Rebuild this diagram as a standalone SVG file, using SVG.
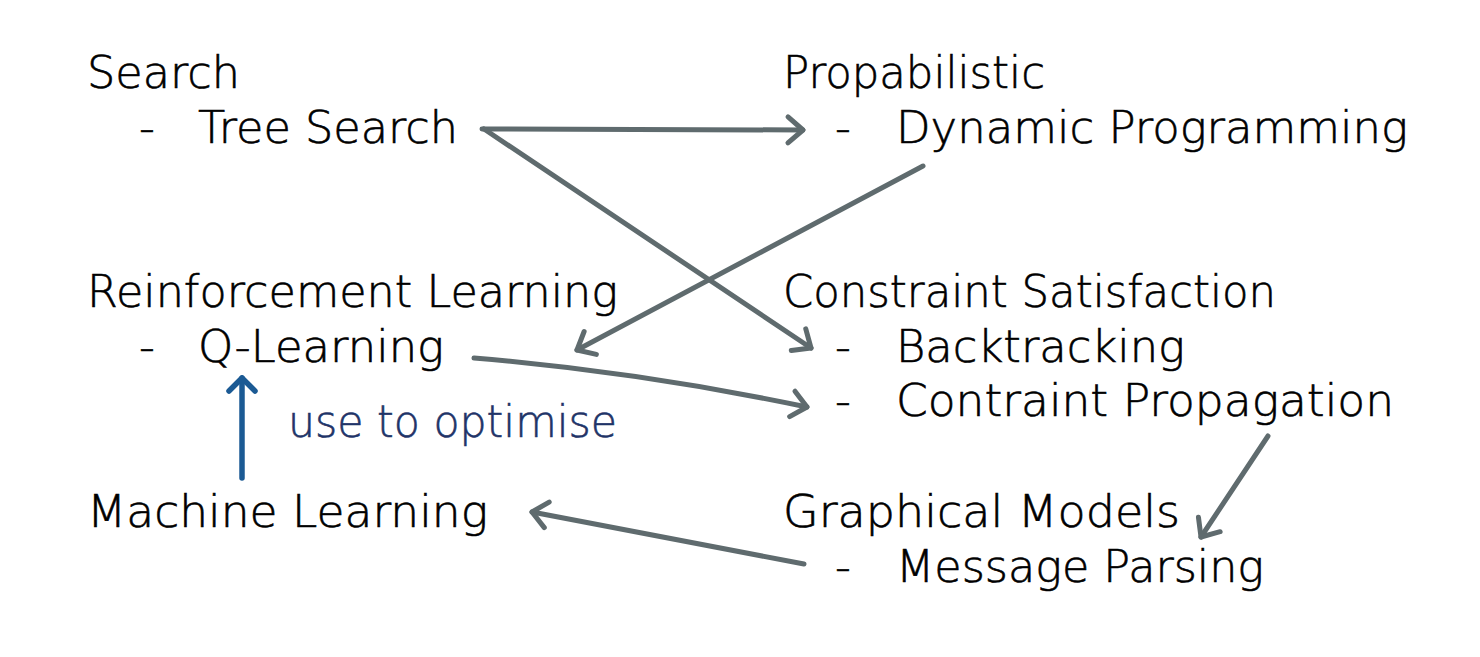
<svg xmlns="http://www.w3.org/2000/svg" width="1480" height="657" viewBox="0 0 1480 657">
<style>
.t{font-family:"DejaVu Sans","Liberation Sans",sans-serif;font-size:44px;font-weight:300;fill:#000;stroke:#000;stroke-width:0.6}
.b{font-family:"DejaVu Sans","Liberation Sans",sans-serif;font-size:44px;font-weight:300;fill:#1f3468;stroke:#1f3468;stroke-width:0.6}
.c{fill:none;stroke:#5f6b6e;stroke-width:5;stroke-linecap:round;stroke-linejoin:round}
.u{fill:none;stroke:#1b5a94;stroke-width:5.5;stroke-linecap:round;stroke-linejoin:round}
</style>
<defs>
<marker id="ag" markerUnits="userSpaceOnUse" orient="auto" markerWidth="40" markerHeight="40" refX="20" refY="20" viewBox="0 0 40 40">
<path d="M5,7 L20,20 L5,33" fill="none" stroke="#5f6b6e" stroke-width="5" stroke-linecap="round" stroke-linejoin="round"/>
</marker>
<marker id="ab" markerUnits="userSpaceOnUse" orient="auto" markerWidth="40" markerHeight="40" refX="20" refY="20" viewBox="0 0 40 40">
<path d="M7,7 L20,20 L7,33" fill="none" stroke="#1b5a94" stroke-width="5.5" stroke-linecap="round" stroke-linejoin="round"/>
</marker>
</defs>
<rect width="1480" height="657" fill="#fff"/>
<g id="connectors">
<path class="c" d="M482,129 L803,130" marker-end="url(#ag)"/>
<path class="c" d="M484,129 L811,348" marker-end="url(#ag)"/>
<path class="c" d="M923,166 L577,350" marker-end="url(#ag)"/>
<path class="c" d="M474,358 Q640,372 807,407" marker-end="url(#ag)"/>
<path class="c" d="M1268,436 L1201,537" marker-end="url(#ag)"/>
<path class="c" d="M804,564 L532,512" marker-end="url(#ag)"/>
<path class="u" d="M242,478 L242,378" marker-end="url(#ab)"/>
</g>
<g id="search">
<text class="t" x="87" y="88" textLength="153" lengthAdjust="spacingAndGlyphs">Search</text>
<text class="t" x="139" y="143">-</text>
<text class="t" x="198" y="143" textLength="260" lengthAdjust="spacingAndGlyphs">Tree Search</text>
</g>
<g id="propabilistic">
<text class="t" x="783" y="88" textLength="262" lengthAdjust="spacingAndGlyphs">Propabilistic</text>
<text class="t" x="835" y="143">-</text>
<text class="t" x="896" y="143" textLength="512" lengthAdjust="spacingAndGlyphs">Dynamic Programming</text>
</g>
<g id="reinforcement">
<text class="t" x="87" y="307" textLength="531" lengthAdjust="spacingAndGlyphs">Reinforcement Learning</text>
<text class="t" x="139" y="362">-</text>
<text class="t" x="198" y="362" textLength="246" lengthAdjust="spacingAndGlyphs">Q-Learning</text>
</g>
<g id="constraint">
<text class="t" x="783" y="307" textLength="493" lengthAdjust="spacingAndGlyphs">Constraint Satisfaction</text>
<text class="t" x="835" y="362">-</text>
<text class="t" x="896" y="362" textLength="289" lengthAdjust="spacingAndGlyphs">Backtracking</text>
<text class="t" x="835" y="416">-</text>
<text class="t" x="896" y="416" textLength="498" lengthAdjust="spacingAndGlyphs">Contraint Propagation</text>
</g>
<g id="label">
<text class="b" x="288" y="437" textLength="329" lengthAdjust="spacingAndGlyphs">use to optimise</text>
</g>
<g id="machine">
<text class="t" x="87" y="527" textLength="401" lengthAdjust="spacingAndGlyphs">Machine Learning</text>
</g>
<g id="graphical">
<text class="t" x="783" y="527" textLength="397" lengthAdjust="spacingAndGlyphs">Graphical Models</text>
<text class="t" x="835" y="582">-</text>
<text class="t" x="896" y="582" textLength="368" lengthAdjust="spacingAndGlyphs">Message Parsing</text>
</g>
</svg>
